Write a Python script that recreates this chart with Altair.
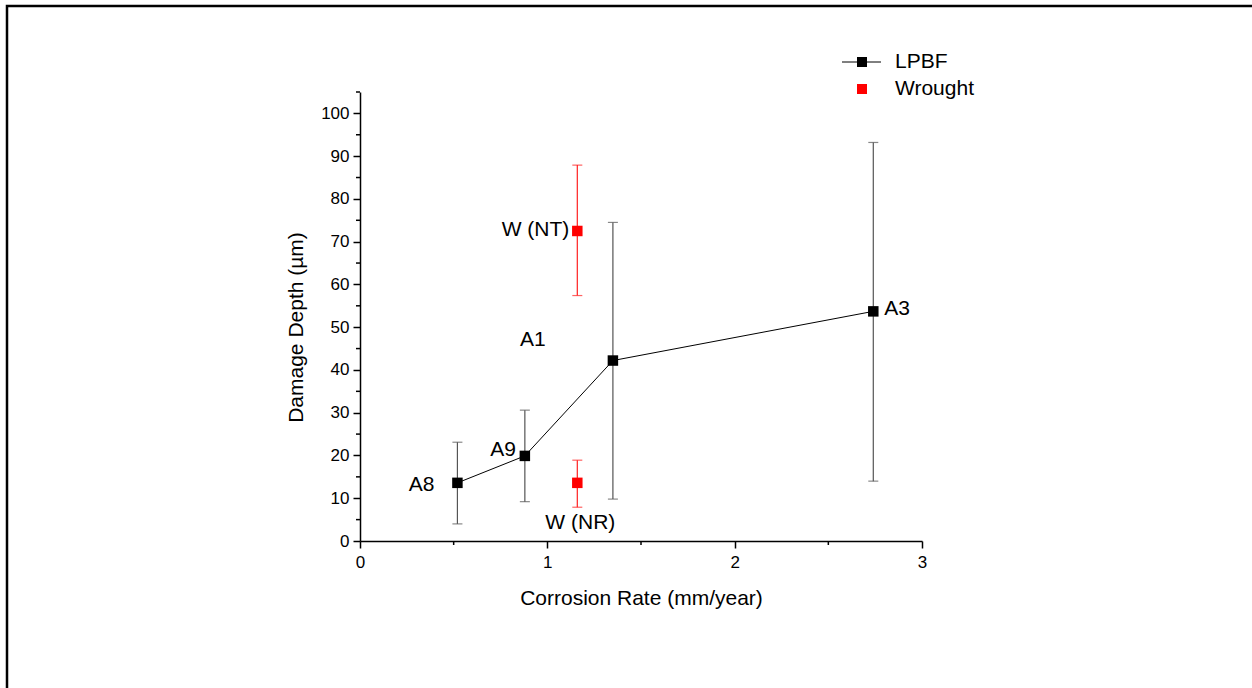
import altair as alt
import pandas as pd

# LPBF alloys: corrosion rate vs damage depth with error ranges
lpbf_names = ["A8", "A9", "A1", "A3"]
lpbf_rate = [0.52, 0.88, 1.35, 2.74]
lpbf_depth = [13.6, 19.9, 42.2, 53.7]
lpbf_low = [4.0, 9.2, 9.8, 14.0]
lpbf_high = [23.1, 30.6, 74.5, 93.2]

# Wrought reference samples
wrought_names = ["W (NT)", "W (NR)"]
wrought_rate = [1.16, 1.16]
wrought_depth = [72.5, 13.6]
wrought_low = [57.4, 7.9]
wrought_high = [87.9, 18.9]

series_names = ["LPBF", "Wrought"]

x_major = [0, 1, 2, 3]
x_minor = [0.5, 1.5, 2.5]
y_major = list(range(0, 101, 10))
y_minor = list(range(5, 106, 10))

W, H = 562, 449
FONT = "Liberation Sans"
TXT = 21
TICK_TXT = 17

lpbf = pd.DataFrame({"name": lpbf_names, "rate": lpbf_rate, "depth": lpbf_depth,
                     "low": lpbf_low, "high": lpbf_high})
wrought = pd.DataFrame({"name": wrought_names, "rate": wrought_rate, "depth": wrought_depth,
                        "low": wrought_low, "high": wrought_high})

xs = alt.Scale(domain=[0, 3], nice=False, zero=False)
ys = alt.Scale(domain=[0, 105], nice=False, zero=False)


def X(field):
    return alt.X(field, type="quantitative", scale=xs, axis=None)


def Y(field):
    return alt.Y(field, type="quantitative", scale=ys, axis=None)


one = pd.DataFrame({"k": [0]})

# outer frame around the figure
frame = alt.Chart(one).mark_rect(fillOpacity=0, stroke="black", strokeWidth=2.5).encode(
    x=alt.value(-353), x2=alt.value(1000), y=alt.value(-86), y2=alt.value(700)
)

# main axes (layer carrying the visible axes)
axes = alt.Chart(pd.DataFrame({"rate": [0], "depth": [0]})).mark_point(opacity=0).encode(
    x=alt.X("rate:Q", scale=xs, title="Corrosion Rate (mm/year)",
            axis=alt.Axis(orient="bottom", values=x_major, format="d", grid=False, tickSize=7,
                          tickWidth=1.5, domainWidth=1.5, domainColor="black", tickColor="black",
                          labelFontSize=TICK_TXT, labelFont=FONT, labelColor="black",
                          labelPadding=6, labelFlush=False,
                          titleFont=FONT, titleFontSize=TXT, titleFontWeight="normal",
                          titleColor="black", titleX=W / 2, titleY=57, titleBaseline="middle")),
    y=alt.Y("depth:Q", scale=ys, title="Damage Depth (µm)",
            axis=alt.Axis(orient="left", values=y_major, format="d", grid=False, tickSize=7,
                          tickWidth=1.5, domainWidth=1.5, domainColor="black", tickColor="black",
                          labelFontSize=TICK_TXT, labelFont=FONT, labelColor="black",
                          labelPadding=4, labelFlush=False,
                          titleFont=FONT, titleFontSize=TXT, titleFontWeight="normal",
                          titleColor="black", titleAngle=270, titleX=-64, titleY=235,
                          titleBaseline="middle", titleAlign="center")),
)

# minor ticks
x_min_ticks = alt.Chart(pd.DataFrame({"v": x_minor})).mark_rule(color="black", strokeWidth=1.5).encode(
    x=X("v"), y=alt.value(H), y2=alt.value(H + 4)
)
y_min_ticks = alt.Chart(pd.DataFrame({"v": y_minor})).mark_rule(color="black", strokeWidth=1.5).encode(
    y=Y("v"), x=alt.value(-4), x2=alt.value(0)
)


def error_bars(df, color):
    stem = alt.Chart(df).mark_rule(color=color, strokeWidth=1.2).encode(
        x=X("rate"), y=Y("low"), y2="high"
    )
    cap_lo = alt.Chart(df).mark_tick(color=color, orient="horizontal", size=10, thickness=1.2).encode(
        x=X("rate"), y=Y("low")
    )
    cap_hi = alt.Chart(df).mark_tick(color=color, orient="horizontal", size=10, thickness=1.2).encode(
        x=X("rate"), y=Y("high")
    )
    return stem + cap_lo + cap_hi


lpbf_err = error_bars(lpbf, "#555555")
wr_err = error_bars(wrought, "#ff2020")

lpbf_line = alt.Chart(lpbf).mark_line(color="black", strokeWidth=1).encode(
    x=X("rate"), y=Y("depth"), order="rate:Q"
)
lpbf_pts = alt.Chart(lpbf).mark_square(color="black", size=110, opacity=1).encode(
    x=X("rate"), y=Y("depth")
)
wr_pts = alt.Chart(wrought).mark_square(color="#ff0000", size=110, opacity=1).encode(
    x=X("rate"), y=Y("depth")
)

# point labels with their offsets from the marker
label_style = {
    "A8": ("right", -23, 2),
    "A9": ("right", -9, -6),
    "A1": ("center", -80, -21),
    "A3": ("left", 11, -2),
    "W (NT)": ("right", -8, -1),
    "W (NR)": ("center", 3, 40),
}
labels = []
for df in (lpbf, wrought):
    for _, row in df.iterrows():
        align, dx, dy = label_style[row["name"]]
        labels.append(
            alt.Chart(pd.DataFrame([row])).mark_text(
                font=FONT, fontSize=TXT, color="black", align=align, baseline="middle", dx=dx, dy=dy
            ).encode(x=X("rate"), y=Y("depth"), text="name:N")
        )

# legend
leg_line = alt.Chart(one).mark_rule(color="black", strokeWidth=1).encode(
    x=alt.value(482), x2=alt.value(521), y=alt.value(-30)
)
leg_sq1 = alt.Chart(one).mark_square(color="black", size=100, opacity=1).encode(
    x=alt.value(502), y=alt.value(-30)
)
leg_sq2 = alt.Chart(one).mark_square(color="#ff0000", size=100, opacity=1).encode(
    x=alt.value(502), y=alt.value(-3)
)
leg_t1 = alt.Chart(pd.DataFrame({"s": [series_names[0]]})).mark_text(
    font=FONT, fontSize=TXT, color="black", align="left", baseline="middle"
).encode(x=alt.value(535), y=alt.value(-30), text="s:N")
leg_t2 = alt.Chart(pd.DataFrame({"s": [series_names[1]]})).mark_text(
    font=FONT, fontSize=TXT, color="black", align="left", baseline="middle"
).encode(x=alt.value(535), y=alt.value(-3), text="s:N")

chart = alt.layer(
    axes, frame, x_min_ticks, y_min_ticks, lpbf_err, wr_err, lpbf_line, lpbf_pts, wr_pts,
    *labels, leg_line, leg_sq1, leg_sq2, leg_t1, leg_t2
).resolve_axis(
    x="independent", y="independent"
).properties(
    width=W, height=H,
    padding={"left": 360, "top": 92, "right": 330, "bottom": 147},
    autosize=alt.AutoSizeParams(type="none"),
    background="white",
).configure_view(stroke=None)

chart.save("out.html", embed_options={"renderer": "svg", "actions": False})
